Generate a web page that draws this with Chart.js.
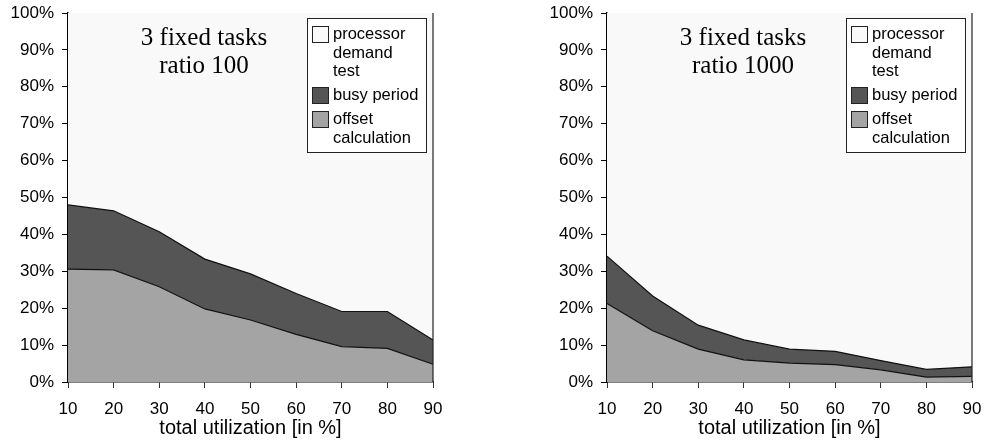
<!DOCTYPE html>
<html><head><meta charset="utf-8">
<script src="https://cdn.jsdelivr.net/npm/chart.js@4/dist/chart.umd.min.js"></script>
<style>
html,body{margin:0;padding:0;background:#fff;}
#wrap{position:relative;width:984px;height:441px;}
.c{position:absolute;top:0;width:492px;height:441px;}
</style></head><body>
<div id="wrap">
<div class="c" style="left:0"><canvas id="c1" width="492" height="441"></canvas></div>
<div class="c" style="left:492px"><canvas id="c2" width="492" height="441"></canvas></div>
</div>
<script>
const categories = ['10','20','30','40','50','60','70','80','90'];
// ratio 100 (percent of run time)
const offset100 = [30.6, 30.4, 25.8, 19.8, 16.8, 12.9, 9.6, 9.1, 4.8];
const busy100   = [17.4, 16.0, 14.9, 13.5, 12.5, 11.1, 9.5, 10.0, 6.6];
const pdt100    = [52.0, 53.6, 59.3, 66.7, 70.7, 76.0, 80.9, 80.9, 88.6];
// ratio 1000
const offset1000 = [21.3, 13.9, 8.9, 6.0, 5.1, 4.7, 3.3, 1.3, 1.5];
const busy1000   = [12.8, 9.4, 6.5, 5.4, 3.8, 3.6, 2.5, 2.1, 2.6];
const pdt1000    = [65.9, 76.7, 84.6, 88.6, 91.1, 91.7, 94.2, 96.6, 95.9];
const yTicks = [0,10,20,30,40,50,60,70,80,90,100];
const seriesNames = ['processor demand test','busy period','offset calculation'];
const legendLines = [['processor','demand','test'],['busy period'],['offset','calculation']];
const colors = {pdt:'#f9f9f9', busy:'#555555', offset:'#a4a4a4'};

const SANS = '"Liberation Sans", Arial, sans-serif';
const SERIF = '"Liberation Serif", "Times New Roman", serif';

const overlay = {
  id:'overlay',
  afterDraw(chart, args, opts){
    const ctx = chart.ctx, a = chart.chartArea;
    ctx.save();
    // right frame line
    ctx.strokeStyle = '#222'; ctx.lineWidth = 1.2;
    ctx.beginPath(); ctx.moveTo(a.right, a.top); ctx.lineTo(a.right, a.bottom); ctx.stroke();
    // title
    ctx.fillStyle = '#000';
    ctx.font = '25px ' + SERIF;
    ctx.textAlign = 'center'; ctx.textBaseline = 'alphabetic';
    ctx.fillText(opts.title[0], a.left + 136, 45);
    ctx.fillText(opts.title[1], a.left + 136, 73);
    // legend box
    const lx = a.left + 239, ly = 18, lw = 119, lh = 134;
    ctx.fillStyle = '#fff';
    ctx.fillRect(lx, ly, lw, lh);
    ctx.strokeStyle = '#222'; ctx.lineWidth = 1;
    ctx.strokeRect(lx + 0.5, ly + 0.5, lw, lh);
    const sw = [colors.pdt, colors.busy, colors.offset];
    const swY = [8, 69, 93];
    const lineY = [[16, 35, 53], [77], [101, 120]];
    ctx.font = '16.5px ' + SANS;
    ctx.textAlign = 'left'; ctx.textBaseline = 'middle';
    for (let i = 0; i < 3; i++) {
      ctx.fillStyle = sw[i];
      ctx.fillRect(lx + 5, ly + swY[i], 16, 16);
      ctx.strokeStyle = '#222';
      ctx.strokeRect(lx + 5.5, ly + swY[i] + 0.5, 16, 16);
      ctx.fillStyle = '#000';
      legendLines[i].forEach((t, j) => ctx.fillText(t, lx + 26, ly + lineY[i][j]));
    }
    ctx.restore();
  }
};

function makeChart(id, offs, busy, pdt, title, padLeft, padRight){
  new Chart(document.getElementById(id), {
    type:'line',
    data:{
      labels: categories,
      datasets:[
        {label:seriesNames[2], data:offs, fill:'origin', backgroundColor:colors.offset, borderColor:'#111', borderWidth:1.2, pointRadius:0, tension:0},
        {label:seriesNames[1], data:busy, fill:'-1', backgroundColor:colors.busy, borderColor:'#111', borderWidth:1.2, pointRadius:0, tension:0},
        {label:seriesNames[0], data:pdt, fill:'-1', backgroundColor:colors.pdt, borderColor:'rgba(0,0,0,0)', borderWidth:0, pointRadius:0, tension:0}
      ]
    },
    options:{
      responsive:false, animation:false,
      layout:{padding:{left:padLeft, right:padRight, top:13, bottom:0}},
      plugins:{legend:{display:false}, tooltip:{enabled:false}, overlay:{title:title}},
      scales:{
        x:{
          type:'category', offset:false,
          grid:{drawOnChartArea:false, drawTicks:true, tickLength:6, color:'#333'},
          border:{display:true, color:'#000', width:1.5},
          ticks:{color:'#000', font:{family:SANS, size:17}, padding:11, maxRotation:0, autoSkip:false},
          title:{display:true, text:'total utilization [in %]', color:'#000', font:{family:SANS, size:20}, padding:{top:0,bottom:1}},
          afterFit(s){ s.height = 59; s.paddingLeft = 0; s.paddingRight = 0; }
        },
        y:{
          stacked:true, min:0, max:100,
          afterBuildTicks(s){ s.ticks = yTicks.map(v => ({value:v})); },
          grid:{drawOnChartArea:false, drawTicks:true, tickLength:6, color:'#000'},
          border:{display:true, color:'#000', width:1.5},
          ticks:{color:'#000', font:{family:SANS, size:17}, padding:8, callback:v => v + '%'},
          afterFit(s){ s.width = 68; s.paddingTop = 0; s.paddingBottom = 0; }
        }
      }
    },
    plugins:[overlay]
  });
}
makeChart('c1', offset100, busy100, pdt100, ['3 fixed tasks','ratio 100'], 0, 59);
makeChart('c2', offset1000, busy1000, pdt1000, ['3 fixed tasks','ratio 1000'], 47, 12);
</script>
</body></html>
